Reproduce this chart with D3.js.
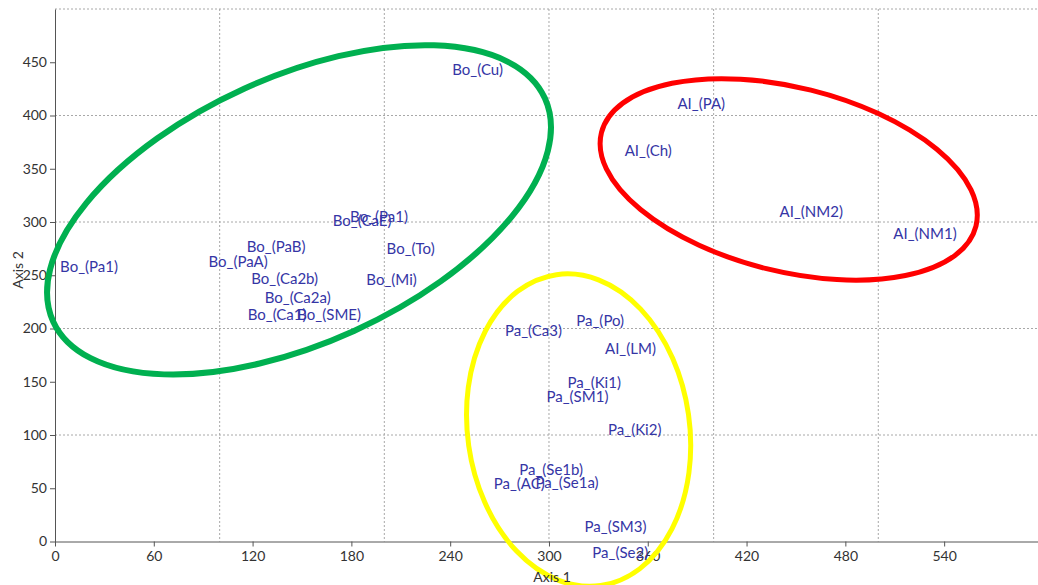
<!DOCTYPE html>
<html>
<head>
<meta charset="utf-8">
<script src="https://cdn.jsdelivr.net/npm/d3@7"></script>
<style>
  body { margin: 0; background: #fff; }
  svg { display: block; font-family: Lato, "Open Sans", sans-serif; }
  .axis path, .axis line { stroke: #555; }
  .axis text { fill: #333; font-size: 14px; font-family: Lato, sans-serif; }
  .grid line { stroke: #a8a8a8; stroke-dasharray: 2,2; }
  .lbl { fill: #3535a5; font-size: 15px; }
  .title { fill: #333; font-size: 14px; }
</style>
</head>
<body>
<svg id="chart" width="1038" height="585"></svg>
<script>
// sample names and coordinates (axis 1, axis 2)
var names = ["Bo_(Pa1)", "Bo_(PaB)", "Bo_(PaA)", "Bo_(Ca2b)", "Bo_(Ca2a)", "Bo_(Ca1)", "Bo_(SME)",
  "Bo_(CaE)", "Bo_(Pa1)", "Bo_(To)", "Bo_(Mi)", "Bo_(Cu)",
  "AI_(PA)", "AI_(Ch)", "AI_(NM2)", "AI_(NM1)",
  "Pa_(Po)", "Pa_(Ca3)", "AI_(LM)", "Pa_(Ki1)", "Pa_(SM1)", "Pa_(Ki2)",
  "Pa_(Se1b)", "Pa_(AC)", "Pa_(Se1a)", "Pa_(SM3)", "Pa_(Se2)"];
var axis1 = [20.7, 134.3, 111.2, 139.5, 147.4, 134.9, 166.5,
  186.5, 196.8, 216, 204.4, 256.7,
  392.5, 360.3, 459.3, 528.4,
  331.1, 290.6, 349.5, 327.5, 317.3, 352.1,
  301.3, 281.9, 311, 340.4, 343.3];
var axis2 = [258.4, 276.6, 263.1, 246.9, 229.1, 213.1, 213.3,
  301.6, 304.7, 275, 246, 443,
  411, 366.6, 309.4, 289.1,
  207.1, 197.8, 181.2, 149, 135.8, 105.3,
  67.1, 54.6, 55.2, 13.9, -11];

var xTicks = [0, 60, 120, 180, 240, 300, 360, 420, 480, 540];
var yTicks = [0, 50, 100, 150, 200, 250, 300, 350, 400, 450];
var gridX = [100, 200, 300, 400, 500];
var gridY = [100, 200, 300, 400, 500];

// group ellipses: centre in data units, half axes in px, tilt in degrees
var groupCx = [148.2, 445.6, 318];
var groupCy = [311.4, 340, 104.6];
var groupRx = [270, 193, 111];
var groupRy = [133, 92, 157];
var groupTilt = [-24.4, 14, -8.1];
var groupColor = ["#00b050", "#ff0000", "#ffff00"];

var svg = d3.select("#chart"),
    margin = {top: 9, right: 0, bottom: 43.5, left: 55},
    width = +svg.attr("width") - margin.left - margin.right,
    height = +svg.attr("height") - margin.top - margin.bottom;

var x = d3.scaleLinear().domain([0, 597]).range([0, width]),
    y = d3.scaleLinear().domain([0, 500]).range([height, 0]);

var g = svg.append("g")
    .attr("transform", "translate(" + margin.left + "," + margin.top + ")");

g.append("g").attr("class", "grid")
  .selectAll("line").data(gridX).enter().append("line")
    .attr("x1", function(d) { return x(d); })
    .attr("x2", function(d) { return x(d); })
    .attr("y1", 0).attr("y2", height);

g.append("g").attr("class", "grid")
  .selectAll("line").data(gridY).enter().append("line")
    .attr("y1", function(d) { return y(d); })
    .attr("y2", function(d) { return y(d); })
    .attr("x1", 0).attr("x2", width);

g.append("g")
    .attr("class", "axis")
    .attr("transform", "translate(0," + height + ")")
    .call(d3.axisBottom(x).tickValues(xTicks).tickSize(5).tickPadding(5).tickSizeOuter(0));

g.append("g")
    .attr("class", "axis")
    .call(d3.axisLeft(y).tickValues(yTicks).tickSize(5).tickPadding(3).tickSizeOuter(0));

g.selectAll(".lbl")
  .data(names)
  .enter().append("text")
    .attr("class", "lbl")
    .attr("x", function(d, i) { return x(axis1[i]); })
    .attr("y", function(d, i) { return y(axis2[i]); })
    .attr("dy", "0.35em")
    .attr("text-anchor", "middle")
    .text(function(d) { return d; });

var ell = g.selectAll(".group")
  .data(groupCx)
  .enter().append("ellipse")
    .attr("class", "group")
    .attr("transform", function(d, i) {
      return "translate(" + [x(d), y(groupCy[i])] + ") rotate(" + groupTilt[i] + ")";
    })
    .attr("rx", function(d, i) { return groupRx[i]; })
    .attr("ry", function(d, i) { return groupRy[i]; })
    .style("fill", "none")
    .style("stroke", function(d, i) { return groupColor[i]; })
    .style("stroke-width", function(d, i) { return i == 0 ? 6 : 5; });

svg.append("text")
  .attr("class", "title")
  .attr("text-anchor", "middle")
  .attr("transform", "translate(" + [18, 270] + ") rotate(-90)")
  .attr("dy", "0.35em")
  .text("Axis 2");

svg.append("text")
  .attr("class", "title")
  .attr("text-anchor", "middle")
  .attr("transform", "translate(" + [552, 577] + ")")
  .attr("dy", "0.35em")
  .text("Axis 1");
</script>
</body>
</html>
